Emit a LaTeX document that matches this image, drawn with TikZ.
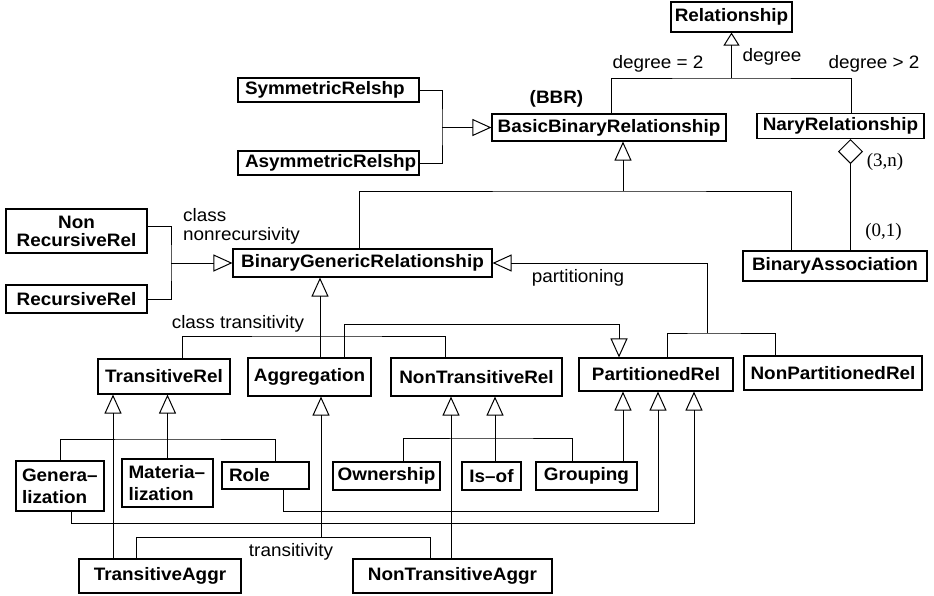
\documentclass[tikz,border=0pt]{standalone}
\usepackage{fontspec}
\setmainfont{Liberation Sans}[FakeStretch=1.05]
\newfontfamily\cardfont{Liberation Serif}
\usetikzlibrary{arrows.meta}
\begin{document}
\begin{tikzpicture}[x=1pt,y=-1pt,
  box/.style={draw, line width=1.1pt, inner sep=0pt, font=\fontsize{18}{20}\selectfont\bfseries},
  lbl/.style={inner sep=0pt, font=\fontsize{18}{20}\selectfont},
  card/.style={inner sep=0pt, font=\fontsize{19}{20}\selectfont\cardfont},
  link/.style={line width=1pt},
  isa/.style={link, -{Triangle[open, length=19pt, width=17pt]}},
  isasmall/.style={link, -{Triangle[open, length=13pt, width=16pt]}},
  part/.style={link, {Diamond[open, length=25pt, width=25pt]}-}
]
\useasboundingbox (0,0) rectangle (934,595);

% classes
\node[box, minimum width=121, minimum height=30] (rel) at (731.5,17) {Relationship};
\node[box, minimum width=234, minimum height=27] (bbr) at (609,127.5) {BasicBinaryRelationship};
\node[box, minimum width=167, minimum height=25] (nary) at (840.5,126) {NaryRelationship};
\node[box, minimum width=181, minimum height=24, text width=167, align=left] (sym) at (328.5,90) {SymmetricRelshp};
\node[box, minimum width=181, minimum height=24, text width=167, align=left] (asym) at (328.5,163) {AsymmetricRelshp};
\node[box, minimum width=141, minimum height=44, align=center, font=\fontsize{18}{18}\selectfont\bfseries] (nonrec) at (76.5,231) {Non\\RecursiveRel};
\node[box, minimum width=141, minimum height=28] (rec) at (76.5,299) {RecursiveRel};
\node[box, minimum width=259, minimum height=28] (bgr) at (362.5,263) {BinaryGenericRelationship};
\node[box, minimum width=184, minimum height=30] (basso) at (835,266) {BinaryAssociation};
\node[box, minimum width=132, minimum height=35] (transrel) at (164,376.5) {TransitiveRel};
\node[box, minimum width=123, minimum height=38] (aggr) at (309.5,377) {Aggregation};
\node[box, minimum width=171, minimum height=38] (ntrel) at (476.5,377) {NonTransitiveRel};
\node[box, minimum width=154, minimum height=33] (partrel) at (656,374.5) {PartitionedRel};
\node[box, minimum width=178, minimum height=34] (npartrel) at (833,373) {NonPartitionedRel};
\node[box, minimum width=88, minimum height=50, text width=76, align=left, font=\fontsize{18}{22}\selectfont\bfseries] (gen) at (60,486) {Genera–\\lization};
\node[box, minimum width=91, minimum height=48, text width=78, align=left, font=\fontsize{18}{22}\selectfont\bfseries] (mat) at (167.5,483) {Materia–\\lization};
\node[box, minimum width=87, minimum height=27, text width=73, align=left] (role) at (265.5,475.5) {Role};
\node[box, minimum width=107, minimum height=28] (own) at (386.5,476) {Ownership};
\node[box, minimum width=59, minimum height=28] (isof) at (491.5,476) {Is–of};
\node[box, minimum width=101, minimum height=28] (grp) at (586.5,476) {Grouping};
\node[box, minimum width=162, minimum height=34] (taggr) at (160,576) {TransitiveAggr};
\node[box, minimum width=199, minimum height=34] (ntaggr) at (452.5,576) {NonTransitiveAggr};

% labels
\node[lbl] (ldeg2) at (658,64) {degree = 2};
\node[lbl] (ldeg) at (772,57) {degree};
\node[lbl] (ldegn) at (874,64) {degree > 2};
\node[lbl, font=\fontsize{18}{20}\selectfont\bfseries] (lbbr) at (556.5,99) {(BBR)};
\node[lbl, align=left, anchor=west, font=\fontsize{18}{19}\selectfont] (lnonrec) at (183,226.5) {class\\nonrecursivity};
\node[lbl] (lpart) at (578,278) {partitioning};
\node[lbl] (lctrans) at (238,324) {class transitivity};
\node[lbl] (ltrans) at (291,552) {transitivity};
\node[card] (l3n) at (885,162) {(3,n)};
\node[card] (l01) at (883.5,232) {(0,1)};

% Relationship by degree
\coordinate (jr) at (731.5,78);
\draw[isasmall] (jr) -- (rel.south);
\draw[link] ([xshift=2]bbr.north) |- (jr) -| ([xshift=10.5]nary.north);

% symmetry
\coordinate (js) at (442,127.5);
\draw[link] (sym.east) -| (js) |- (asym.east);
\draw[isa] (js) -- (bbr.west);

% n-ary aggregation of binary associations
\draw[part] ([xshift=10]nary.south) -- ([xshift=10]nary.south |- basso.north);

% BasicBinaryRelationship subclasses
\coordinate (jb) at (623,191);
\draw[isa] (jb) -- ([xshift=14]bbr.south);
\draw[link] ([xshift=-3.5]bgr.north) |- (jb) -| ([xshift=-44]basso.north);

% recursivity
\coordinate (jn) at (171,263);
\draw[link] ([yshift=5]nonrec.east) -| (jn) |- (rec.east);
\draw[isa] (jn) -- (bgr.west);

% partitioning
\coordinate (jp) at (707,333);
\draw[isa] (jp) |- (bgr.east);
\draw[link] ([xshift=11]partrel.north) |- (jp) -| ([xshift=-58]npartrel.north);

% transitivity and aggregation
\coordinate (jt) at (320,336);
\draw[isa] ([xshift=10.5]aggr.north) -- ([xshift=10.5]aggr.north |- bgr.south);
\draw[link] ([xshift=18]transrel.north) |- (jt) -| ([xshift=-31.5]ntrel.north);
\coordinate (ja) at (619,324);
\draw[isa] ([xshift=34.5]aggr.north) |- (ja) -- ([xshift=-37]partrel.north);

% TransitiveRel subclasses
\draw[isa] ([xshift=-47]taggr.north) -- ([xshift=-47]taggr.north |- transrel.south);
\draw[isa] (mat.north) -- (mat.north |- transrel.south);
\coordinate (jm) at (167.5,439);
\draw[link] (gen.north) |- (jm) -| ([xshift=9.5]role.north);

% Aggregation subclasses
\coordinate (jg) at (321,537);
\draw[isa] (jg) -- ([xshift=11.5]aggr.south);
\draw[link] ([xshift=-24]taggr.north) |- (jg) -| ([xshift=-22.5]ntaggr.north);

% NonTransitiveRel subclasses
\draw[isa] ([xshift=-1.5]ntaggr.north) -- ([xshift=-1.5]ntaggr.north |- ntrel.south);
\draw[isa] ([xshift=3.5]isof.north) -- ([xshift=3.5]isof.north |- ntrel.south);
\coordinate (jo) at (495,438);
\draw[link] ([xshift=16.5]own.north) |- (jo) -| ([xshift=-14.5]grp.north);

% PartitionedRel subclasses
\draw[isa] ([xshift=36.5]grp.north) -- ([xshift=36.5]grp.north |- partrel.south);
\coordinate (jr2) at (658,511);
\draw[isa] ([xshift=17.5]role.south) |- (jr2) -- ([xshift=2]partrel.south);
\coordinate (jg2) at (694,523);
\draw[isa] ([xshift=11]gen.south) |- (jg2) -- ([xshift=38]partrel.south);
\end{tikzpicture}
\end{document}
